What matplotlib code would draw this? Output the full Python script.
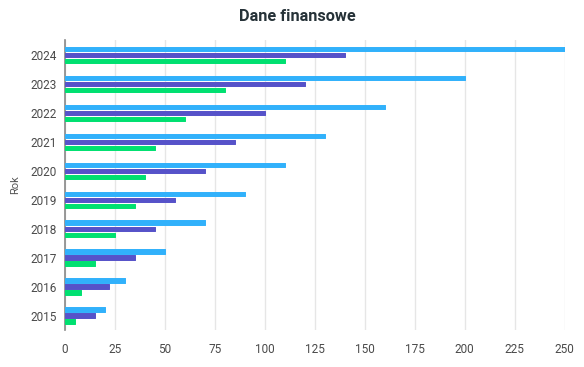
import numpy as np
import matplotlib
matplotlib.use('Agg')
import matplotlib.pyplot as plt

plt.rcParams['font.family'] = ['Roboto', 'DejaVu Sans']

# data
years = ['2015', '2016', '2017', '2018', '2019', '2020', '2021', '2022', '2023', '2024']
series_a = [20, 30, 50, 70, 90, 110, 130, 160, 200, 250]
series_b = [15, 22, 35, 45, 55, 70, 85, 100, 120, 140]
series_c = [5, 8, 15, 25, 35, 40, 45, 60, 80, 110]
colors = ['#31B1FB', '#5652C9', '#00E070']

fig = plt.figure(figsize=(5.84, 3.67), dpi=100)
ax = fig.add_axes([0.1113, 0.1008, 0.8555, 0.790])

y = np.arange(len(years))
off = 0.207
h = 0.14
for vals, dy, c in zip([series_a, series_b, series_c], [off, 0, -off], colors):
    ax.barh(y + dy, vals, height=h, color=c, edgecolor=c, linewidth=0.7,
            joinstyle='round', zorder=3)

ax.set_xlim(0, 250)
ax.set_ylim(-0.5, len(years) - 0.5)
ax.set_xticks(np.arange(0, 251, 25))
ax.set_yticks(y)
ax.set_yticklabels(years)
ax.grid(axis='x', color='#e6e6e6', linewidth=1, zorder=0)
ax.tick_params(length=0, labelsize=8.5, colors='#4a4a4a', pad=6)
ax.tick_params(axis='x', pad=9)
for s in ['top', 'right', 'bottom']:
    ax.spines[s].set_visible(False)
ax.spines['left'].set_color('#888888')
ax.spines['left'].set_linewidth(1.2)

ax.set_ylabel('Rok', fontsize=8, color='#555555', labelpad=7)
fig.suptitle('Dane finansowe', fontsize=11.7, fontweight='bold', color='#263238',
             x=0.51, y=0.975)

fig.savefig('out.png', dpi=100)
